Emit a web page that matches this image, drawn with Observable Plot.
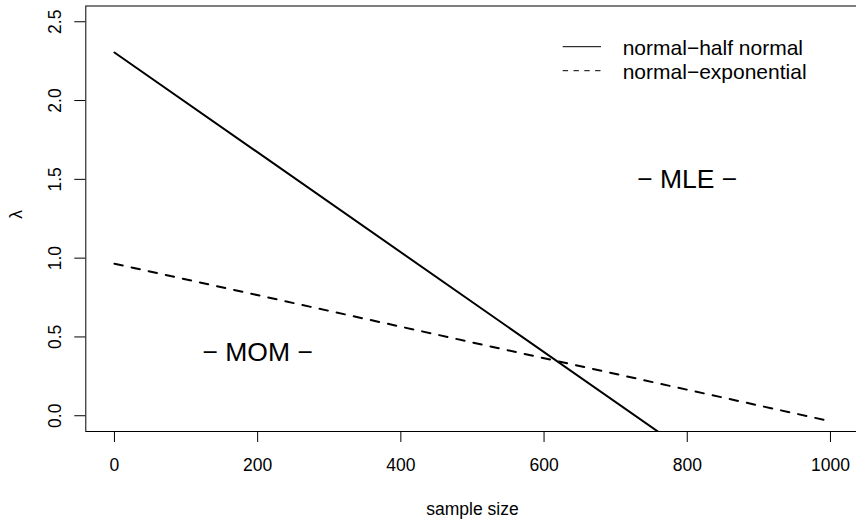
<!DOCTYPE html>
<html>
<head>
<meta charset="utf-8">
<script src="https://cdn.jsdelivr.net/npm/d3@7"></script>
<script src="https://cdn.jsdelivr.net/npm/@observablehq/plot@0.6"></script>
<style>
  html, body { margin: 0; padding: 0; background: white; }
  #chart svg { display: block; }
</style>
</head>
<body>
<div id="chart"></div>
<script>
// ---- data ----
const sampleSize = [0, 1000];
const halfNormal = [2.305, -0.864];     // normal-half normal
const exponential = [0.965, -0.035];    // normal-exponential
const xTicks = [0, 200, 400, 600, 800, 1000];
const yTicks = [0, 0.5, 1, 1.5, 2, 2.5];
const yTickLabels = ["0.0", "0.5", "1.0", "1.5", "2.0", "2.5"];
const regionLabels = ["\u2212 MOM \u2212", "\u2212 MLE \u2212"];
const regionX = [200, 800];
const regionY = [0.4, 1.5];
const legendLabels = ["normal\u2212half normal", "normal\u2212exponential"];
const xLabel = "sample size";
const yLabel = "\u03bb";

const solidData = sampleSize.map((x, i) => ({x, y: halfNormal[i]}));
const dashData = sampleSize.map((x, i) => ({x, y: exponential[i]}));
const regions = regionLabels.map((t, i) => ({x: regionX[i], y: regionY[i], t}));

const font = "'Liberation Sans', Arial, Helvetica, sans-serif";

const svg = Plot.plot({
  width: 856,
  height: 519,
  marginLeft: 85.3,
  marginRight: -2.6,
  marginTop: 5.5,
  marginBottom: 88,
  style: {fontFamily: font, fontSize: "17.5px", background: "white", color: "black"},
  x: {domain: [-40, 1040]},
  y: {domain: [-0.1, 2.6]},
  marks: [
    Plot.line(solidData, {x: "x", y: "y", stroke: "black", strokeWidth: 2, clip: true}),
    Plot.line(dashData, {x: "x", y: "y", stroke: "black", strokeWidth: 2, strokeDasharray: "8.5,9", clip: true}),
    Plot.text(regions, {x: "x", y: "y", text: "t", fontSize: 26.5, fill: "black"}),
    Plot.axisX({ticks: xTicks, tickSize: 11, tickPadding: 16, tickFormat: d => String(d), label: null}),
    Plot.axisY({ticks: yTicks, tickSize: 11, tickPadding: 14, tickRotate: -90,
                tickFormat: d => yTickLabels[yTicks.indexOf(d)], label: null}),
    Plot.text([xLabel], {frameAnchor: "bottom", dy: 83, lineAnchor: "bottom", fontSize: 17.5}),
    Plot.text([yLabel], {frameAnchor: "left", dx: -64, rotate: -90, lineAnchor: "bottom", fontSize: 17.5}),
    Plot.frame({stroke: "black", strokeWidth: 1})
  ]
});

// legend (top right, R-style)
const g = d3.select(svg).append("g")
  .attr("font-family", font).attr("font-size", 21).attr("text-anchor", "start");
legendLabels.forEach((lab, i) => {
  const ly = 46.7 + i * 24;
  g.append("line")
    .attr("x1", 562.7).attr("x2", 601).attr("y1", ly).attr("y2", ly)
    .attr("stroke", "black").attr("stroke-width", 1)
    .attr("stroke-dasharray", i === 1 ? "5.4,5.4" : null);
  g.append("text").attr("x", 622.7).attr("y", ly + 8)
    .attr("text-anchor", "start").attr("fill", "black").text(lab);
});

document.getElementById("chart").appendChild(svg);
</script>
</body>
</html>
